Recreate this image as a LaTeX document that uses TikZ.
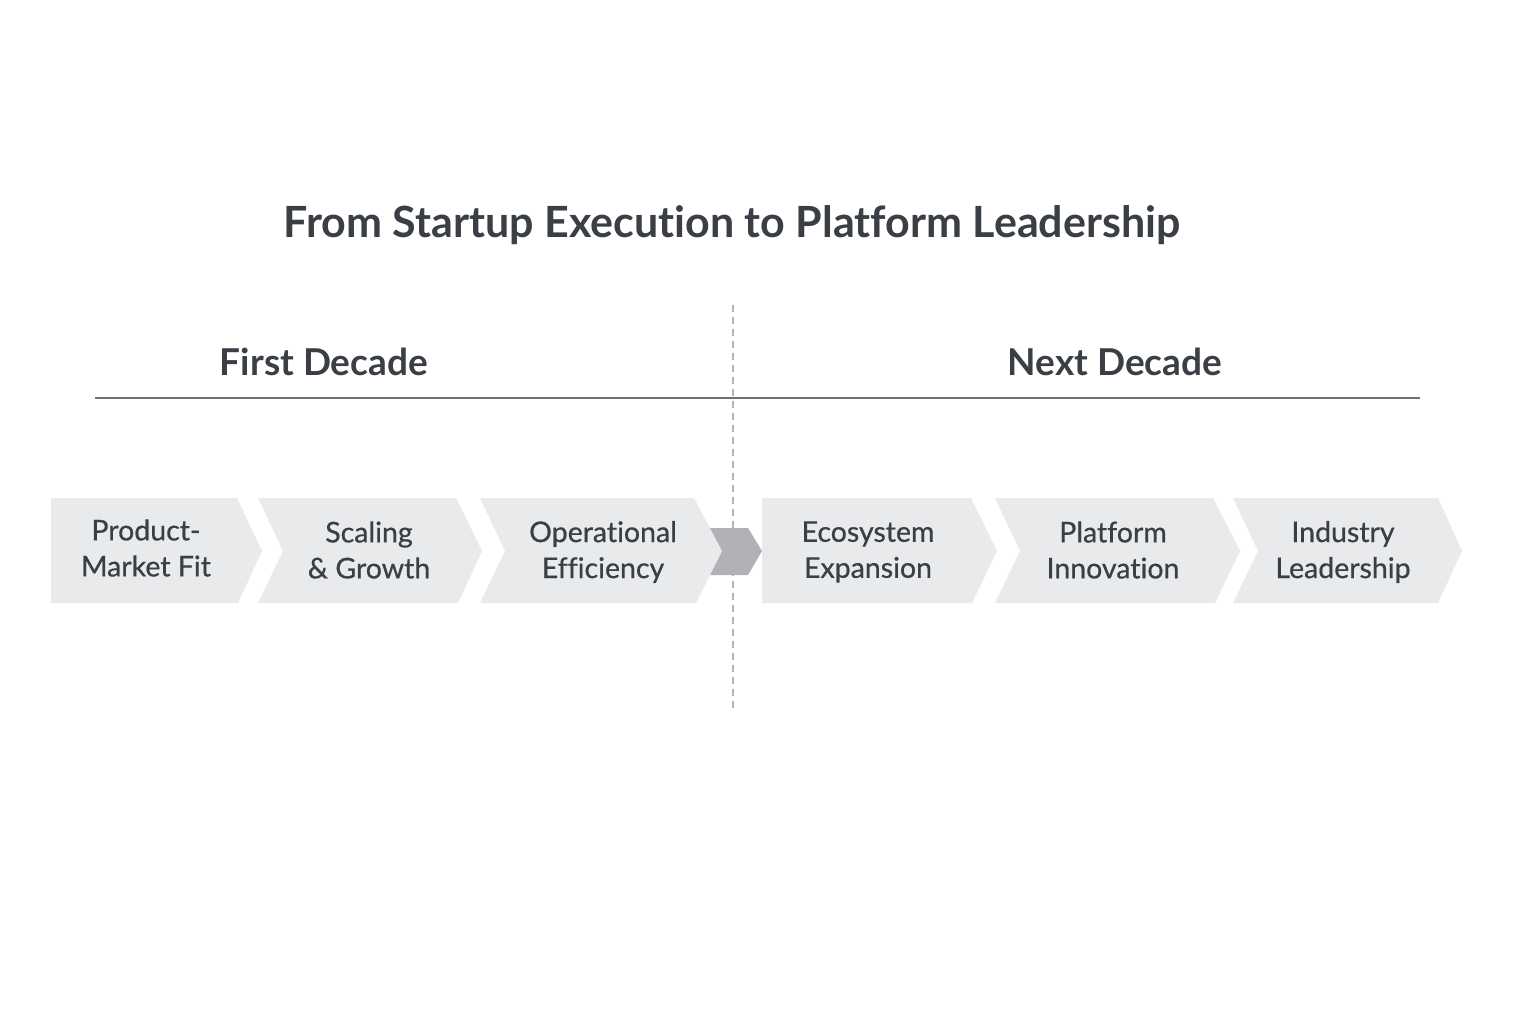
\documentclass[tikz,border=0pt]{standalone}
\usepackage{fontspec}
\setmainfont{Lato}[Ligatures={NoCommon}]
\newfontfamily\lblfont{Lato}[Ligatures={NoCommon},FakeBold=0.6]
\definecolor{chev}{HTML}{E9EAEB}
\definecolor{midarrow}{HTML}{B1B2B5}
\definecolor{txt}{HTML}{3A3E45}
\definecolor{rulec}{HTML}{6E717A}
\definecolor{dashc}{HTML}{B4B4B4}
\tikzset{
  chevfill/.style={fill=chev, draw=none},
  lbl/.style={text=txt, font=\lblfont\fontsize{28.5}{36}\selectfont, align=center, inner sep=0pt},
  hdr/.style={text=txt, font=\fontsize{37}{42}\selectfont\bfseries, inner sep=0pt},
}
\begin{document}
\begin{tikzpicture}[x=1pt,y=-1pt]
\useasboundingbox (0,0) rectangle (1536,1024);
\fill[white] (0,0) rectangle (1536,1024);

% title
\node[text=txt, font=\fontsize{43}{50}\selectfont\bfseries, inner sep=0pt] (title) at (732,225) {From Startup Execution to Platform Leadership};

% headers
\node[hdr] (first) at (324,362) {First Decade};
\node[hdr] (next) at (1115,362) {Next Decade};

% horizontal rule
\coordinate (rl) at (95,398);
\coordinate (rr) at (1420,398);
\draw[rulec, line width=1.2pt] (rl) -- (rr);

% dashed divider
\coordinate (dt) at (733,305);
\coordinate (db) at (733,710);
\draw[dashc, line width=1.3pt, dash pattern=on 7pt off 5pt] (dt) -- (db);

% middle gray arrow (behind chevron 3)
\fill[midarrow] (690,528) -- (748,528) -- (762,551) -- (748,575) -- (690,575) -- cycle;

% chevrons
\fill[chevfill] (51,498) -- (237,498) -- (262,551) -- (238,603) -- (51,603) -- cycle;
\fill[chevfill] (258,498) -- (456,498) -- (482,551) -- (458,603) -- (258,603) -- (283,551) -- cycle;
\fill[chevfill] (480,498) -- (694,498) -- (722,551) -- (696,603) -- (480,603) -- (505,551) -- cycle;
\fill[chevfill] (762,498) -- (971,498) -- (997,551) -- (972,603) -- (762,603) -- cycle;
\fill[chevfill] (995,498) -- (1213,498) -- (1240,551) -- (1215,603) -- (995,603) -- (1020,551) -- cycle;
\fill[chevfill] (1233,498) -- (1438,498) -- (1462,551) -- (1438,603) -- (1233,603) -- (1258,551) -- cycle;

% labels
\node[lbl] (c1) at (146,548) {Product-\\Market Fit};
\node[lbl] (c2) at (369,550) {Scaling\\\& Growth};
\node[lbl] (c3) at (603,552) {Operational\\Efficiency};
\node[lbl] (c4) at (868,552) {Ecosystem\\Expansion};
\node[lbl] (c5) at (1113,550) {Platform\\Innovation};
\node[lbl] (c6) at (1343,552) {Industry\\Leadership};
\end{tikzpicture}
\end{document}
